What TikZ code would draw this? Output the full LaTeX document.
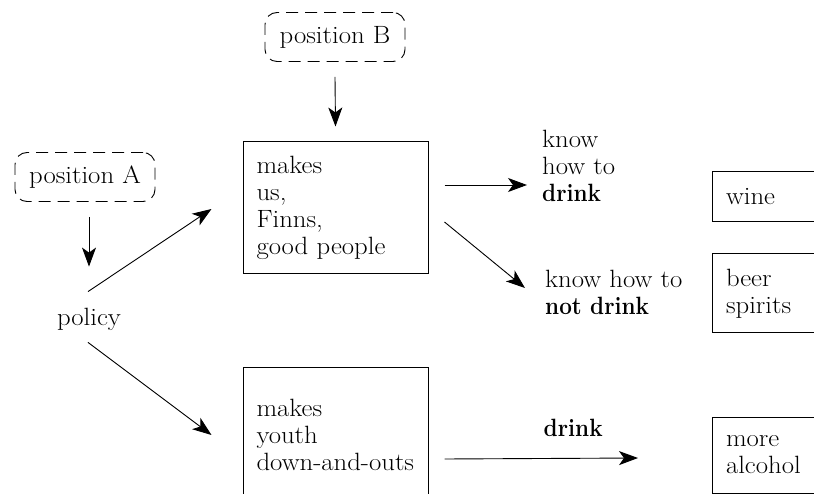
\documentclass[tikz,border=0pt]{standalone}
\usepackage{fontspec}
\setmainfont{Latin Modern Roman}[FakeStretch=1.07,BoldFeatures={FakeStretch=0.9}]
\usepackage{tikz}
\usetikzlibrary{calc}
\usetikzlibrary{arrows.meta}
\usetikzlibrary{positioning}
\pgfkeys{tikz/posbox/.style={draw,dashed,dash pattern=on 12pt off 7pt,rounded corners=12pt,line width=0.9pt,minimum width=140pt,minimum height=49pt,inner sep=0pt}}
\pgfkeys{tikz/txtbox/.style={draw,line width=1pt,align=left,text width=158pt,inner xsep=13.5pt,inner ysep=0pt}}
\pgfkeys{tikz/plain/.style={align=left,inner sep=0pt}}
\pgfkeys{tikz/arr/.style={-{Stealth[length=19pt,width=14pt,inset=5pt]},line width=0.9pt}}

\begin{document}
\begin{tikzpicture}[x=1pt,y=-1pt,font=\fontsize{25}{27}\selectfont]
    \useasboundingbox (0,0) rectangle (814,494);
    \clip (0,0) rectangle (814,494);
    \node[posbox] (posB) at (335,37) {position B};
    \node[posbox] (posA) at (85,177) {position A};
    \node[plain] (policy) at (89,319) {policy};
    \node[txtbox, minimum height=132pt] (box1) at (335.5,208) {makes\\us,\\Finns,\\good people};
    \node[txtbox, minimum height=136pt, below = 92pt of box1] (box2) {makes\\youth\\down-and-outs};
    \node[plain, anchor=west] (knowdrink) at (542,166) {know\\how to\\\textbf{drink}};
    \node[plain, anchor=west] (knownot) at (545,292) {know how to\\\textbf{not drink}};
    \node[txtbox, minimum height=50pt, anchor=west] (wine) at (712,197) {wine};
    \node[txtbox, minimum height=79pt, below = 31pt of wine] (beer) {beer\\spirits};
    \node[txtbox, minimum height=76pt, anchor=west] (alcohol) at (712,455) {more\\alcohol};
    \draw[arr] ($(posB.south)+(0,15)$) -- ($(box1.north)+(0,-15)$);
    \draw[arr] ($(posA.south)+(4,15)$) -- ($(policy.north)+(0,-41)$);
    \draw[arr] ($(policy.north)+(-1,-16)$) -- ($(box1.west)+(-31,1)$);
    \draw[arr] ($(policy.south)+(-1,12)$) -- ($(box2.west)+(-31,0)$);
    \draw[arr] ($(box1.east)+(16,-23)$) -- ($(knowdrink.west)+(-15,19)$);
    \draw[arr] ($(box1.east)+(16,14)$) -- ($(knownot.west)+(-20,-4)$);
    \draw[arr] ($(box2.east)+(16,24)$) -- ($(alcohol.west)+(-74,3)$)
        node[plain, pos=0.665, above=21pt] (drinklbl) {\textbf{drink}};
\end{tikzpicture}
\end{document}
